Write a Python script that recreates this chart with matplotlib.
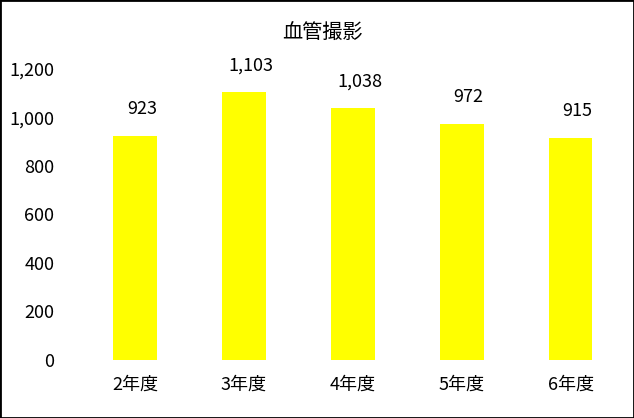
import matplotlib
matplotlib.use("Agg")
import matplotlib.pyplot as plt
from matplotlib.patches import Rectangle

plt.rcParams['font.family'] = ['Noto Sans CJK JP', 'DejaVu Sans']

# data
years = ['2年度', '3年度', '4年度', '5年度', '6年度']
counts = [923, 1103, 1038, 972, 915]
yticks = [0, 200, 400, 600, 800, 1000, 1200]

fig = plt.figure(figsize=(6.34, 4.18), dpi=100)
ax = fig.add_axes([0.127, 0.139, 0.859, 0.696])

x = range(len(years))
bars = ax.bar(x, counts, width=0.40, color='#FFFF00')

for i, v in enumerate(counts):
    ax.annotate('{:,}'.format(v), (i, v), xytext=(5, 13), textcoords='offset points',
                ha='center', va='bottom', fontsize=13)

ax.set_xlim(-0.5, len(years) - 0.5)
ax.set_ylim(0, 1200)
ax.set_yticks(yticks)
ax.set_yticklabels(['{:,}'.format(t) for t in yticks])
ax.set_xticks(list(x))
ax.set_xticklabels(years)
ax.tick_params(axis='y', length=0, pad=19, labelsize=13)
ax.tick_params(axis='x', length=0, pad=11, labelsize=13)
for s in ax.spines.values():
    s.set_visible(False)

fig.text(0.509, 0.921, '血管撮影', ha='center', va='center', fontsize=14.5)

# black frame around the whole picture
fig.patches.append(Rectangle((0, 0), 1, 1, transform=fig.transFigure, fill=False,
                             edgecolor='black', linewidth=2, clip_on=False))

fig.savefig('out.png', dpi=100)
